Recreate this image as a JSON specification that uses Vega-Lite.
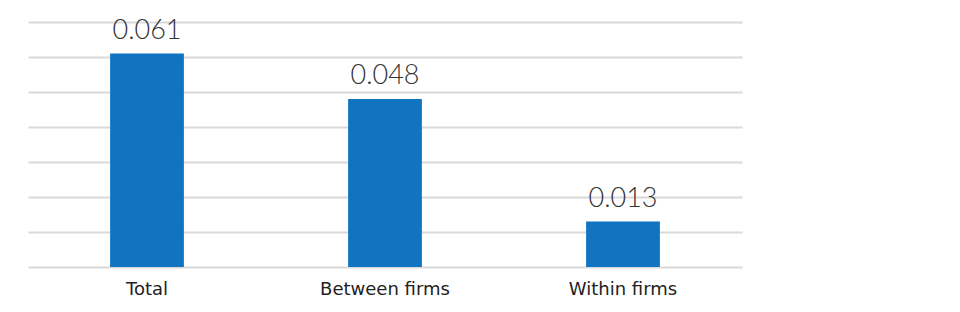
{
  "$schema": "https://vega.github.io/schema/vega-lite/v6.json",
  "width": 714,
  "height": 245,
  "autosize": {"type": "none"},
  "padding": {"left": 28, "top": 22, "right": 218, "bottom": 45},
  "background": "white",
  "config": {"view": {"stroke": null}},
  "data": {"values": [
    {"category": "Total", "value": 0.061},
    {"category": "Between firms", "value": 0.048},
    {"category": "Within firms", "value": 0.013}
  ]},
  "encoding": {
    "x": {"field": "category", "type": "nominal", "sort": null,
      "scale": {"paddingInner": 0.69, "paddingOuter": 0.345},
      "axis": {"title": null, "labelAngle": 0, "domain": false, "ticks": false,
        "labelFont": "DejaVu Sans", "labelFontSize": 18, "labelColor": "#222222", "labelPadding": 13}},
    "y": {"field": "value", "type": "quantitative",
      "scale": {"domain": [0, 0.07], "nice": false},
      "axis": {"title": null, "labels": false, "ticks": false, "domain": false,
        "values": [0, 0.01, 0.02, 0.03, 0.04, 0.05, 0.06, 0.07],
        "gridColor": "#d9d9d9", "gridWidth": 2}}
  },
  "layer": [
    {"mark": {"type": "bar", "color": "#1174c0"}},
    {"mark": {"type": "text", "baseline": "alphabetic", "dy": -15, "font": "Lato", "fontWeight": 300, "fontSize": 27, "color": "#333333"},
     "encoding": {"text": {"field": "value", "type": "quantitative", "format": ".3f"}}}
  ]
}
